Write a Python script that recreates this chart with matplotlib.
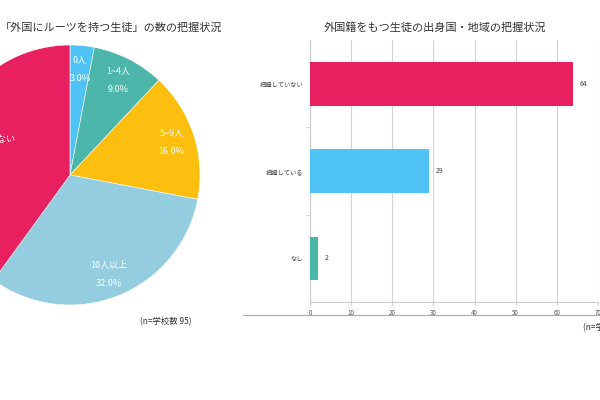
import matplotlib.pyplot as plt
from matplotlib.lines import Line2D

plt.rcParams['font.family'] = ['Noto Sans CJK JP', 'DejaVu Sans']

# pie data
pie_labels = ["0人", "1~4人", "5~9人", "10人以上", "把握していない"]
pie_pct = [3.0, 9.0, 16.0, 32.0, 40.0]
pie_colors = ["#4fc3f5", "#4db6ab", "#fcbf0f", "#94cde0", "#e8205f"]

# bar data
bar_cats = ["把握していない", "把握している", "なし"]
bar_vals = [64, 29, 2]
bar_colors = ["#e8205f", "#4fc3f5", "#4db6ab"]

fig = plt.figure(figsize=(6, 4), dpi=100)

# left: pie (partly cut off by the left edge)
ax1 = fig.add_axes([-0.1, 0.2375, 0.4333, 0.65])
labels = [f"{l}\n{p:.1f}%" for l, p in zip(pie_labels, pie_pct)]
wedges, texts = ax1.pie(pie_pct, labels=labels, colors=pie_colors, startangle=90,
                        counterclock=False, labeldistance=0.82,
                        wedgeprops=dict(edgecolor="white", linewidth=0.4),
                        textprops=dict(color="white", fontsize=6.5, ha="center",
                                       va="center", linespacing=2.4))
# the big slice's label sits a bit further in
texts[4].set_position((-0.66, 0.2))
ax1.set_xlim(-1, 1)
ax1.set_ylim(-1, 1)
ax1.set_aspect("equal")
fig.text(0.0, 0.93, "「外国にルーツを持つ生徒」の数の把握状況", fontsize=8, color="#333333",
         ha="left", va="center")
fig.text(0.233, 0.195, "(n=学校数 95)", fontsize=6, color="#333333", ha="left", va="center")

# right: horizontal bars (partly cut off by the right edge)
ax2 = fig.add_axes([0.5167, 0.245, 0.48, 0.655])
y = range(len(bar_cats))
ax2.barh(y, bar_vals, height=0.5, color=bar_colors, zorder=3)
for yi, v in zip(y, bar_vals):
    ax2.text(v + 1.5, yi, str(v), fontsize=5, color="#444444", va="center", ha="left")
ax2.set_ylim(2.5, -0.5)
ax2.set_xlim(0, 70)
ax2.set_xticks(range(0, 71, 10))
ax2.set_yticks(list(y))
ax2.set_yticklabels(bar_cats, fontsize=4.5, color="#444444")
ax2.set_yticks([0.5, 1.5], minor=True)
ax2.tick_params(axis="y", which="major", length=0, pad=5)
ax2.tick_params(axis="y", which="minor", length=3, color="#cccccc")
ax2.tick_params(axis="x", labelsize=4.5, labelcolor="#555555", length=2, color="#cccccc", pad=3)
ax2.grid(axis="x", color="#d4d4d4", linewidth=0.8, zorder=0)
for s in ["top", "right"]:
    ax2.spines[s].set_visible(False)
ax2.spines["left"].set_color("#cccccc")
ax2.spines["bottom"].set_color("#cccccc")
fig.text(0.725, 0.932, "外国籍をもつ生徒の出身国・地域の把握状況", fontsize=8, color="#333333",
         ha="center", va="center")
fig.add_artist(Line2D([0.405, 1.0], [0.2125, 0.2125], color="#aaaaaa", linewidth=0.8))
fig.text(0.972, 0.18, "(n=学校数 95)", fontsize=6, color="#333333", ha="left", va="center")

fig.savefig("out.png", dpi=100, facecolor="white")
